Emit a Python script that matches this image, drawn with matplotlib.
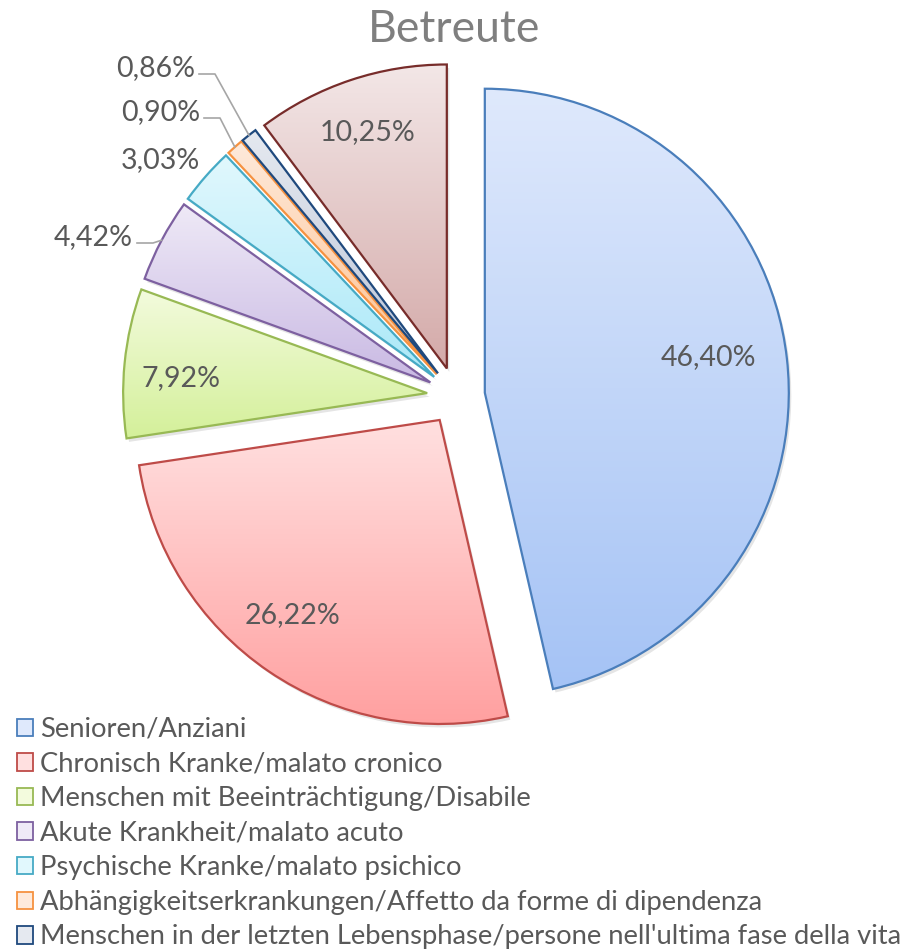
import numpy as np
import matplotlib
matplotlib.use("Agg")
import matplotlib.pyplot as plt
from matplotlib.patches import Rectangle, Wedge
from matplotlib.colors import LinearSegmentedColormap

plt.rcParams["font.family"] = ["Lato", "DejaVu Sans"]

categories = [
    "Senioren/Anziani",
    "Chronisch Kranke/malato cronico",
    "Menschen mit Beeinträchtigung/Disabile",
    "Akute Krankheit/malato acuto",
    "Psychische Kranke/malato psichico",
    "Abhängigkeitserkrankungen/Affetto da forme di dipendenza",
    "Menschen in der letzten Lebensphase/persone nell'ultima fase della vita",
    "",
]
shares = [46.40, 26.22, 7.92, 4.42, 3.03, 0.90, 0.86, 10.25]

top_colors = ["#dfe9fc", "#ffe0e0", "#f3fbdd", "#efeaf7", "#e1f8fd", "#feeadb", "#e5e9f0", "#f3e7e7"]
bottom_colors = ["#a5c3f5", "#ffa0a0", "#d4f09a", "#c9b9e3", "#aae8f8", "#fdc08f", "#bbc4d7", "#d4aaa9"]
edge_colors = ["#4a7ebb", "#be4b48", "#98b954", "#7d60a0", "#46aac5", "#f69240", "#1f497d", "#772c2a"]

TEXT = "#595959"
CX, CY, R = 456, 554, 304
EXPLODE = 29  # pie() takes the offset in data units

fig = plt.figure(figsize=(9.09, 9.5), dpi=100)
ax = fig.add_axes([0, 0, 1, 1])

wedges, _ = ax.pie(
    shares,
    startangle=90,
    counterclock=False,
    radius=R,
    center=(CX, CY),
    explode=[EXPLODE] * len(shares),
    wedgeprops=dict(linewidth=1.6, facecolor="none", zorder=3),
)

grad = np.linspace(0, 1, 256).reshape(-1, 1)
for i, w in enumerate(wedges):
    w.set_edgecolor(edge_colors[i])
    wc = w.center
    # soft shadow
    sh = Wedge((wc[0] + 2.5, wc[1] - 3.5), w.r, w.theta1, w.theta2,
               facecolor="#000000", alpha=0.10, linewidth=0, zorder=1)
    ax.add_patch(sh)
    bb = w.get_path().get_extents(w.get_patch_transform())
    cmap = LinearSegmentedColormap.from_list("g%d" % i, [top_colors[i], bottom_colors[i]])
    im = ax.imshow(grad, cmap=cmap, aspect="auto", origin="upper",
                   extent=[bb.x0, bb.x1, bb.y0, bb.y1], zorder=2,
                   interpolation="bilinear")
    im.set_clip_path(w)

ax.set_xlim(0, 909)
ax.set_ylim(0, 950)
ax.set_aspect("equal")
ax.axis("off")


def label_text(v):
    return ("%.2f%%" % v).replace(".", ",")


def mid_dir(w):
    a = np.deg2rad((w.theta1 + w.theta2) / 2)
    return np.cos(a), np.sin(a)


# labels inside the big slices: (radius fraction, nudge x, nudge y)
inside = {0: (0.74, 0, 10), 1: (0.81, -9, 9), 2: (0.83, 5, -10), 7: (0.82, 0, 0)}
for i, (frac, nx, ny) in inside.items():
    w = wedges[i]
    dx, dy = mid_dir(w)
    ax.text(w.center[0] + dx * R * frac + nx, w.center[1] + dy * R * frac + ny,
            label_text(shares[i]), ha="center", va="center",
            fontsize=20.5, color=TEXT, zorder=5)

# outside labels with leader lines (label anchor = right edge of text)
outside = {3: (133, 713, True), 4: (200, 790, False), 5: (200, 838, True), 6: (195, 882, True)}
for i, (tx, ty, leader) in outside.items():
    w = wedges[i]
    ax.text(tx, ty, label_text(shares[i]), ha="right", va="center",
            fontsize=20.5, color=TEXT, zorder=5)
    if leader:
        dx, dy = mid_dir(w)
        ex, ey = w.center[0] + dx * R, w.center[1] + dy * R
        ly = ty - 6
        ax.plot([tx + 4, tx + 20, ex], [ly, ly, ey], color="#a6a6a6",
                linewidth=1.2, zorder=4)

fig.text(0.5, 1 - 30 / 950, "Betreute", ha="center", va="center",
         fontsize=32, color="#7f7f7f")

handles = [
    Rectangle((0, 0), 1, 1, facecolor=top_colors[i], edgecolor=edge_colors[i], linewidth=1.3)
    for i in range(7)
]
fig.legend(
    handles, categories[:7],
    loc="upper left", bbox_to_anchor=(17 / 909, 1 - 717 / 950),
    frameon=False, fontsize=19.7, labelcolor=TEXT,
    handlelength=0.6, handleheight=0.6, handletextpad=0.25,
    labelspacing=0.35, borderaxespad=0, borderpad=0,
)

fig.savefig("out.png", dpi=100)
